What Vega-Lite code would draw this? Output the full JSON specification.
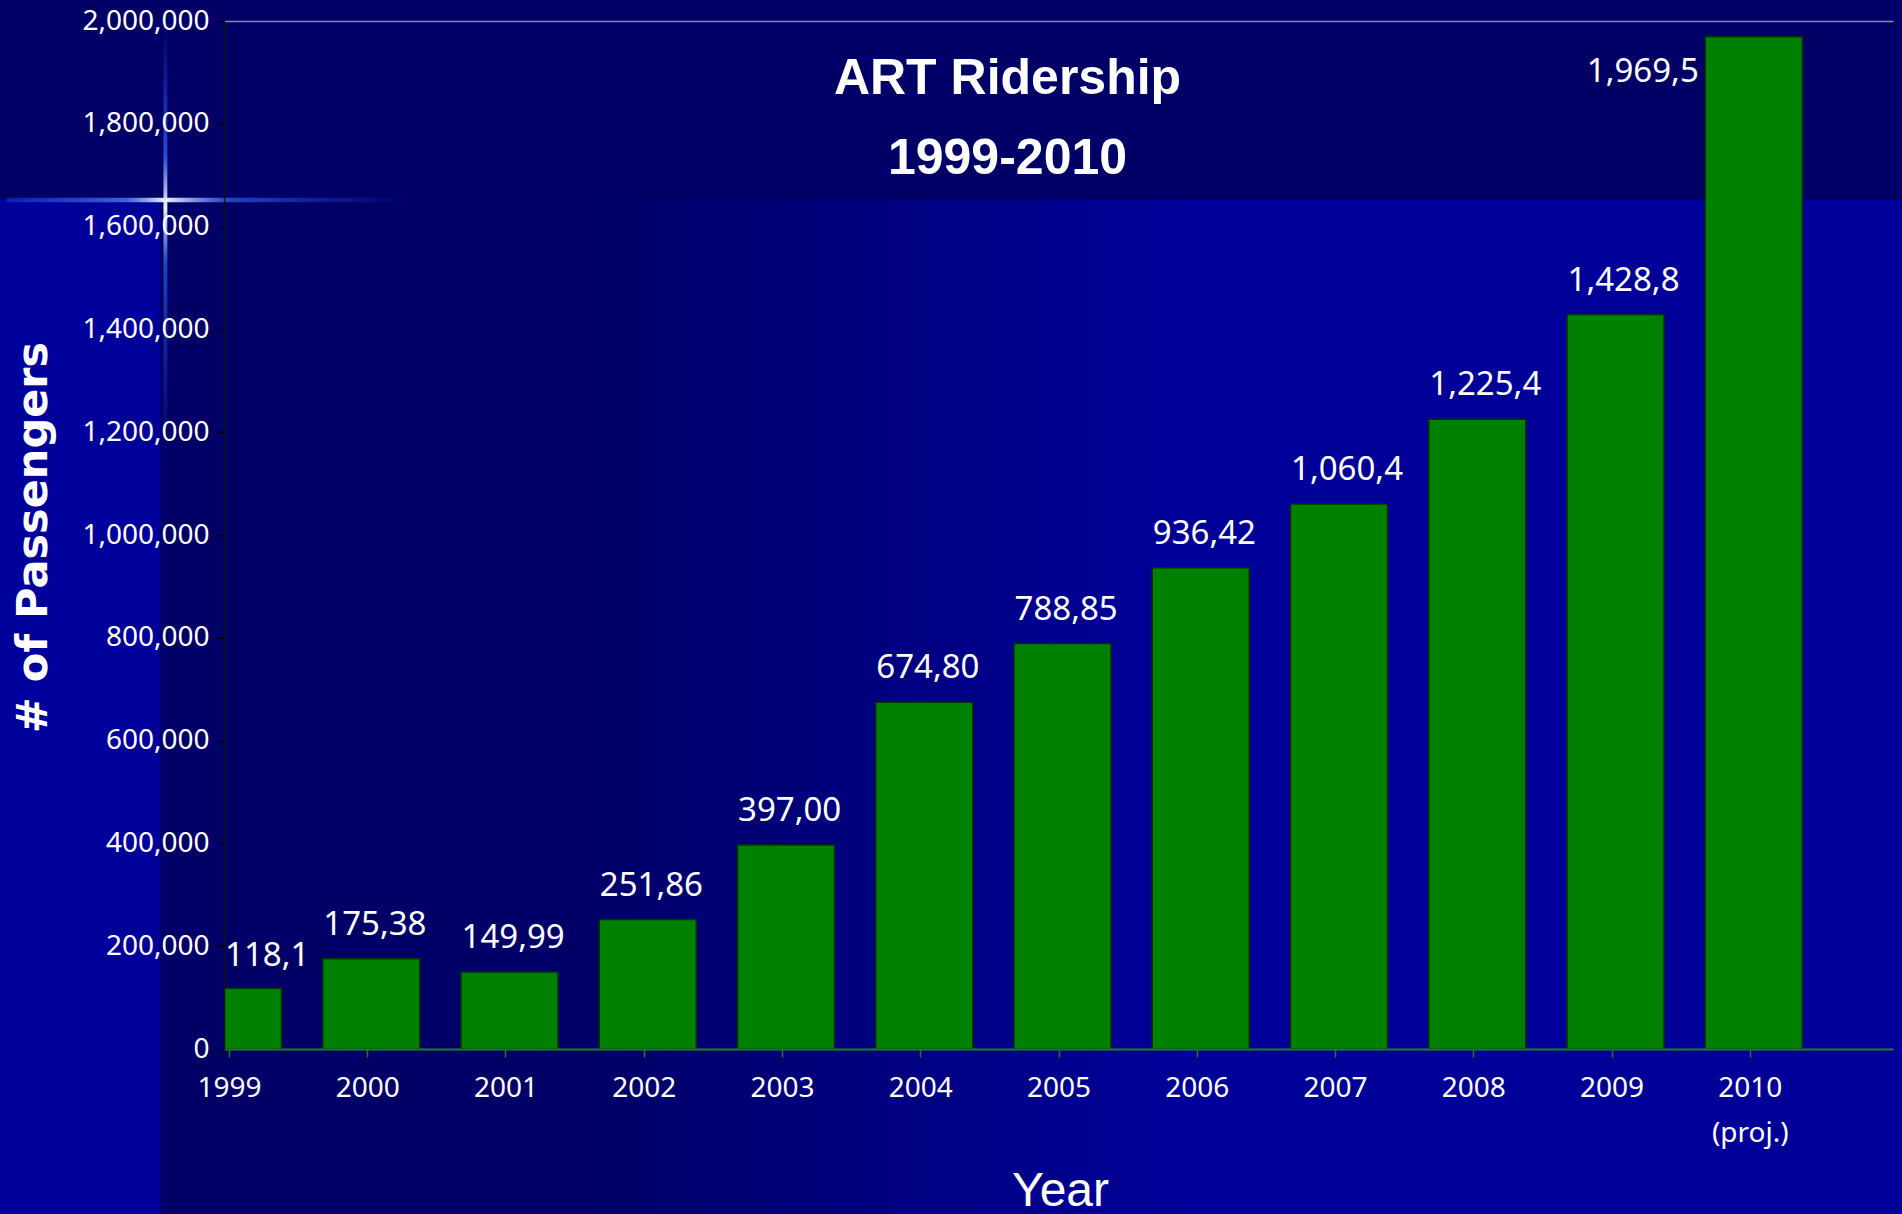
{
  "$schema": "https://vega.github.io/schema/vega-lite/v6.json",
  "width": 1669,
  "height": 1028,
  "autosize": {"type": "none"},
  "padding": {"left": 224, "top": 21, "right": 9, "bottom": 165},
  "background": "#000066",
  "title": {
    "text": ["ART Ridership", "1999-2010"],
    "font": "Liberation Sans, Arial, sans-serif",
    "fontWeight": "bold",
    "fontSize": 50,
    "color": "#ffffff",
    "lineHeight": 80,
    "anchor": "middle",
    "frame": "group",
    "baseline": "alphabetic",
    "offset": -254,
    "dx": -51
  },
  "data": {
    "values": [
      {"year": 1999, "riders": 118150, "label": "118,1"},
      {"year": 2000, "riders": 175385, "label": "175,38"},
      {"year": 2001, "riders": 149995, "label": "149,99"},
      {"year": 2002, "riders": 251865, "label": "251,86"},
      {"year": 2003, "riders": 397005, "label": "397,00"},
      {"year": 2004, "riders": 674805, "label": "674,80"},
      {"year": 2005, "riders": 788855, "label": "788,85"},
      {"year": 2006, "riders": 936425, "label": "936,42"},
      {"year": 2007, "riders": 1060450, "label": "1,060,4"},
      {"year": 2008, "riders": 1225420, "label": "1,225,4"},
      {"year": 2009, "riders": 1428820, "label": "1,428,8"},
      {"year": 2010, "riders": 1969550, "label": "1,969,5"}
    ]
  },
  "layer": [
    {
      "data": {"values": [{}]},
      "mark": {
        "type": "rect",
        "stroke": null,
        "fill": {
          "gradient": "linear", "x1": 0, "y1": 0, "x2": 1, "y2": 0,
          "stops": [
            {"offset": 0, "color": "#00009a"},
            {"offset": 0.103, "color": "#00009a"},
            {"offset": 0.104, "color": "#000066"},
            {"offset": 0.32, "color": "#000068"},
            {"offset": 0.62, "color": "#000099"},
            {"offset": 1, "color": "#000099"}
          ]
        }
      },
      "encoding": {
        "x": {"datum": 1997, "type": "quantitative", "axis": {"title": "Year"}},
        "x2": {"datum": 2011.5},
        "y": {"datum": 2100000, "type": "quantitative", "axis": {"title": "# of Passengers"}},
        "y2": {"datum": -400000}
      }
    },
    {
      "data": {"values": [{}]},
      "mark": {"type": "rect", "stroke": null, "fill": "#000066"},
      "encoding": {
        "x": {"datum": 1997, "type": "quantitative", "axis": {"title": "Year"}},
        "x2": {"datum": 2011.5},
        "y": {"datum": 2100000, "type": "quantitative", "axis": {"title": "# of Passengers"}},
        "y2": {"datum": 1651700}
      }
    },
    {
      "data": {"values": [{}]},
      "mark": {
        "type": "rect",
        "stroke": null,
        "fill": {
          "gradient": "linear", "x1": 0, "y1": 0, "x2": 1, "y2": 0,
          "stops": [
            {"offset": 0, "color": "rgba(40,90,255,0.35)"},
            {"offset": 0.3, "color": "rgba(90,140,255,0.7)"},
            {"offset": 0.395, "color": "rgba(255,255,255,0.95)"},
            {"offset": 0.55, "color": "rgba(60,110,255,0.6)"},
            {"offset": 1, "color": "rgba(40,90,255,0)"}
          ]
        }
      },
      "encoding": {
        "x": {"datum": 1997.39, "type": "quantitative", "axis": {"title": "Year"}},
        "x2": {"datum": 2000.3},
        "y": {"datum": 1656000, "type": "quantitative", "axis": {"title": "# of Passengers"}},
        "y2": {"datum": 1647400}
      }
    },
    {
      "data": {"values": [{}]},
      "mark": {
        "type": "rect",
        "stroke": null,
        "fill": {
          "gradient": "linear", "x1": 0, "y1": 0, "x2": 0, "y2": 1,
          "stops": [
            {"offset": 0, "color": "rgba(40,90,255,0)"},
            {"offset": 0.3, "color": "rgba(60,110,255,0.7)"},
            {"offset": 0.42, "color": "rgba(255,255,255,0.95)"},
            {"offset": 0.55, "color": "rgba(60,110,255,0.6)"},
            {"offset": 1, "color": "rgba(40,90,255,0)"}
          ]
        }
      },
      "encoding": {
        "x": {"datum": 1998.526, "type": "quantitative", "axis": {"title": "Year"}},
        "x2": {"datum": 1998.554},
        "y": {"datum": 1990000, "type": "quantitative", "axis": {"title": "# of Passengers"}},
        "y2": {"datum": 1150000}
      }
    },
    {
      "mark": {
        "type": "bar",
        "orient": "vertical",
        "width": 97,
        "xOffset": 4,
        "clip": true,
        "fill": "#008000",
        "stroke": "#003300",
        "strokeWidth": 1.5
      },
      "encoding": {
        "x": {
          "field": "year",
          "type": "quantitative",
          "scale": {"domain": [1999, 2011], "nice": false, "zero": false},
          "axis": {
            "title": "Year",
            "zindex": 1,
            "values": [1999, 2000, 2001, 2002, 2003, 2004, 2005, 2006, 2007, 2008, 2009, 2010],
            "format": "d",
            "labelExpr": "datum.value == 2010 ? ['2010', '(proj.)'] : datum.label",
            "labelFont": "Noto Sans",
            "labelFontSize": 28,
            "labelColor": "#ffffff",
            "labelLineHeight": 45,
            "labelPadding": 17,
            "labelBaseline": "top",
            "labelFlush": false,
            "labelOverlap": false,
            "tickSize": 8,
            "tickColor": "#1f7f1f",
            "tickWidth": 1.5,
            "domainColor": "#1f7f1f",
            "domainWidth": 2,
            "grid": false,
            "titleFont": "Liberation Sans, Arial, sans-serif",
            "titleFontSize": 48,
            "titleFontWeight": "normal",
            "titleColor": "#ffffff",
            "titleBaseline": "alphabetic",
            "titleY": 156,
            "titleX": 836
          }
        },
        "y": {
          "field": "riders",
          "type": "quantitative",
          "scale": {"domain": [0, 2000000], "nice": false, "zero": true},
          "axis": {
            "title": "# of Passengers",
            "zindex": 1,
            "values": [0, 200000, 400000, 600000, 800000, 1000000, 1200000, 1400000, 1600000, 1800000, 2000000],
            "format": ",d",
            "labelFont": "Noto Sans",
            "labelFontSize": 28,
            "labelColor": "#ffffff",
            "labelPadding": 8,
            "labelFlush": false,
            "labelOverlap": false,
            "tickSize": 7,
            "tickColor": "#000000",
            "tickWidth": 1.5,
            "domainColor": "#111111",
            "domainWidth": 1.5,
            "grid": true,
            "gridColor": {"condition": {"test": "datum.value === 2000000", "value": "#8c8ca0"}, "value": "transparent"},
            "gridWidth": 1.5,
            "titleFont": "DejaVu Sans",
            "titleFontSize": 43,
            "titleFontWeight": "bold",
            "titleColor": "#ffffff",
            "titleAngle": -90,
            "titleBaseline": "alphabetic",
            "titleAlign": "center",
            "titleX": -178,
            "titleY": 516
          }
        }
      }
    },
    {
      "transform": [{"filter": "datum.year > 1999 && datum.year < 2010"}],
      "mark": {
        "type": "text",
        "align": "left",
        "baseline": "alphabetic",
        "dx": -44,
        "dy": -24,
        "font": "Noto Sans",
        "fontSize": 33,
        "color": "#ffffff"
      },
      "encoding": {
        "x": {"field": "year", "type": "quantitative"},
        "y": {"field": "riders", "type": "quantitative"},
        "text": {"field": "label"}
      }
    },
    {
      "transform": [{"filter": "datum.year == 1999"}],
      "mark": {
        "type": "text",
        "align": "left",
        "baseline": "alphabetic",
        "dx": -4,
        "dy": -22,
        "font": "Noto Sans",
        "fontSize": 33,
        "color": "#ffffff"
      },
      "encoding": {
        "x": {"field": "year", "type": "quantitative"},
        "y": {"field": "riders", "type": "quantitative"},
        "text": {"field": "label"}
      }
    },
    {
      "transform": [{"filter": "datum.year == 2010"}],
      "mark": {
        "type": "text",
        "align": "left",
        "baseline": "alphabetic",
        "dx": -163,
        "dy": 45,
        "font": "Noto Sans",
        "fontSize": 33,
        "color": "#ffffff"
      },
      "encoding": {
        "x": {"field": "year", "type": "quantitative"},
        "y": {"field": "riders", "type": "quantitative"},
        "text": {"field": "label"}
      }
    }
  ],
  "config": {
    "view": {"stroke": null}
  }
}
